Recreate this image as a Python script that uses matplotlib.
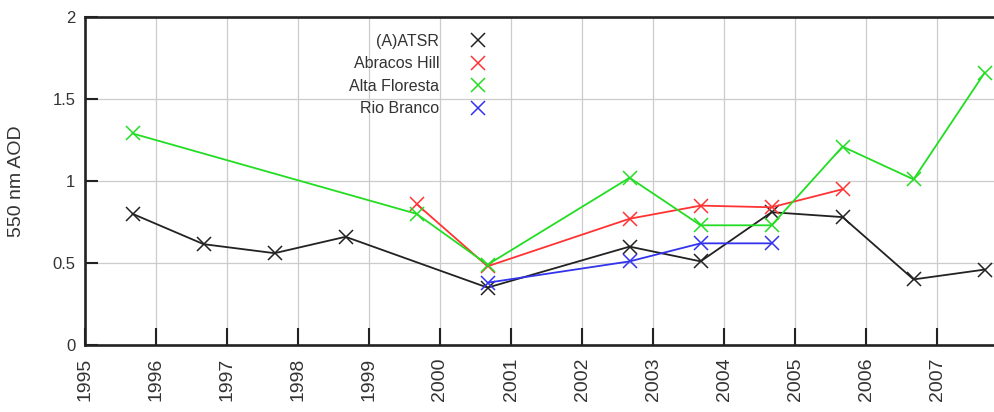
import numpy as np
import matplotlib
matplotlib.use("Agg")
import matplotlib.pyplot as plt

plt.rcParams["font.family"] = ["Liberation Sans", "DejaVu Sans"]

# AOD at 550 nm, one value per year (points sit ~8 months into each year)
atsr_x = [1995.67, 1996.67, 1997.67, 1998.67, 2000.67, 2002.67, 2003.67, 2004.67, 2005.67, 2006.67, 2007.67]
atsr_y = [0.80, 0.615, 0.56, 0.66, 0.35, 0.60, 0.51, 0.81, 0.78, 0.40, 0.46]

abracos_x = [1999.67, 2000.67, 2002.67, 2003.67, 2004.67, 2005.67]
abracos_y = [0.86, 0.48, 0.77, 0.85, 0.84, 0.95]

alta_x = [1995.67, 1999.67, 2000.67, 2002.67, 2003.67, 2004.67, 2005.67, 2006.67, 2007.67]
alta_y = [1.29, 0.80, 0.49, 1.02, 0.73, 0.73, 1.21, 1.01, 1.66]

rio_x = [2000.67, 2002.67, 2003.67, 2004.67]
rio_y = [0.38, 0.51, 0.62, 0.62]

years = list(range(1995, 2008))
yticks = [0, 0.5, 1, 1.5, 2]
ylabels = ["0", "0.5", "1", "1.5", "2"]

fig = plt.figure(figsize=(9.94, 4.12), dpi=100)
ax = fig.add_axes([0.0855, 0.1626, 0.9286, 0.796])

style = dict(marker="x", markersize=10, markeredgewidth=1.1, linewidth=1.3)
ax.plot(atsr_x, atsr_y, color="#222222", label="(A)ATSR", **style)
ax.plot(abracos_x, abracos_y, color="#ff3333", label="Abracos Hill", **style)
ax.plot(alta_x, alta_y, color="#22dd22", label="Alta Floresta", **style)
ax.plot(rio_x, rio_y, color="#3333ee", label="Rio Branco", **style)

ax.set_xlim(1995, 2008)
ax.set_ylim(0, 2)
ax.set_xticks(years)
ax.set_xticklabels([str(y) for y in years], rotation=90, fontsize=14, color="#333333")
ax.set_yticks(yticks)
ax.set_yticklabels(ylabels, fontsize=12, color="#333333")

ax.tick_params(axis="x", direction="in", length=12, width=1.5, pad=9, color="#222222", top=False)
ax.tick_params(axis="y", direction="in", length=9.5, width=1.5, pad=7, color="#222222", right=False)

ax.grid(True, color="#cccccc", linewidth=0.9)
ax.set_axisbelow(True)

for s in ["left", "bottom", "top"]:
    ax.spines[s].set_linewidth(1.9)
    ax.spines[s].set_color("#222222")
ax.spines["right"].set_visible(False)

ax.set_ylabel("550 nm AOD", fontsize=14, color="#333333")
ax.yaxis.set_label_coords(-0.065, 0.5)

leg = ax.legend(loc="upper right", bbox_to_anchor=(0.434, 0.949), markerfirst=False,
                frameon=False, fontsize=11.5, handlelength=1.0, handletextpad=1.9,
                labelspacing=0.47, borderpad=0, borderaxespad=0)
for h in leg.legend_handles:
    h.set_linestyle("none")
for t in leg.get_texts():
    t.set_color("#333333")

fig.savefig("out.png", dpi=100)
